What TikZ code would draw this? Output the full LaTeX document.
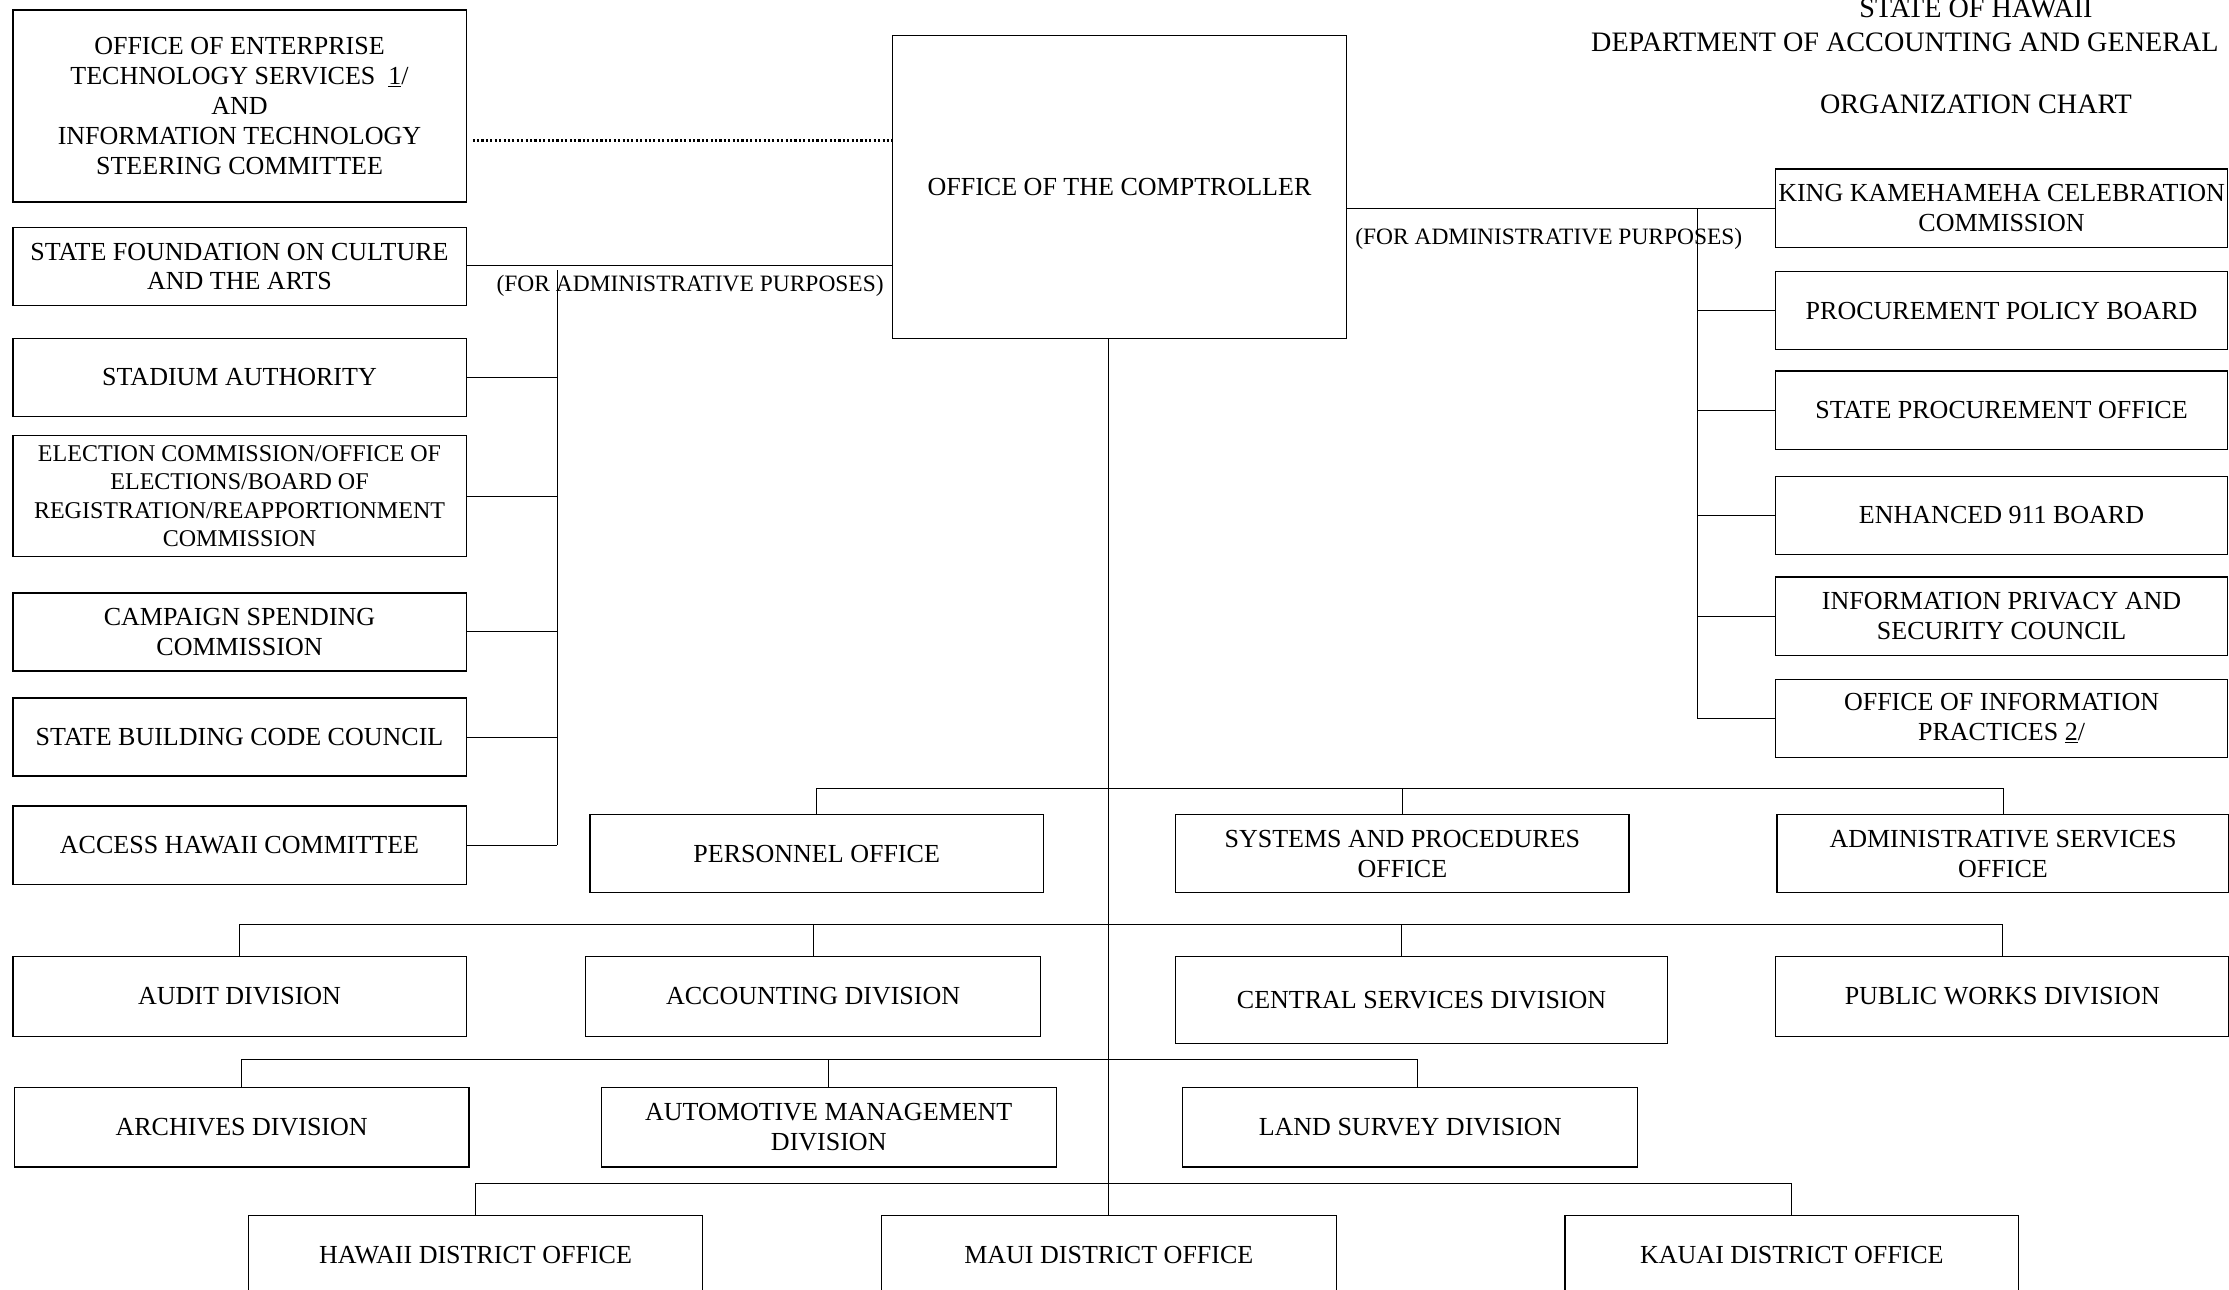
\documentclass[tikz,border=0pt]{standalone}
\usepackage{fontspec}
\setmainfont{Liberation Serif}
\begin{document}
\begin{tikzpicture}[x=1pt,y=-1pt,
  box/.style 2 args={draw, line width=1pt, inner sep=0pt, align=center,
    minimum width=#1, minimum height=#2, font=\fontsize{18.3}{21}\selectfont},
  small/.style={font=\fontsize{16.9}{20}\selectfont},
  lbl/.style={inner sep=0pt, font=\fontsize{16.5}{19}\selectfont},
  ttl/.style={inner sep=0pt, anchor=base, font=\fontsize{19.8}{22}\selectfont},
  conn/.style={line width=0.7pt},
  dots/.style={line width=2.4pt, dash pattern=on 1.5pt off 1.6pt}]
\useasboundingbox (0,0) rectangle (1568,907);

% title
\node[ttl] (t1) at (1390,12) {STATE OF HAWAII};
\node[ttl] (t2) at (1340,36) {DEPARTMENT OF ACCOUNTING AND GENERAL};
\node[ttl] (t3) at (1390,80) {ORGANIZATION CHART};

% comptroller
\node[box={319}{213}] (comp) at (787.5,131.5) {OFFICE OF THE COMPTROLLER};

% left column
\node[box={319}{135}] (oets) at (168.5,74.5) {OFFICE OF ENTERPRISE\\TECHNOLOGY SERVICES\ \ \underline{1}/\\AND\\INFORMATION TECHNOLOGY\\STEERING COMMITTEE};
\node[box={319}{55}] (sfca) at (168.5,187.5) {STATE FOUNDATION ON CULTURE\\AND THE ARTS};
\node[box={319}{55}] (stad) at (168.5,265.5) {STADIUM AUTHORITY};
\node[box={319}{85}, small] (elec) at (168.5,349) {ELECTION COMMISSION/OFFICE OF\\ELECTIONS/BOARD OF\\REGISTRATION/REAPPORTIONMENT\\COMMISSION};
\node[box={319}{55}] (camp) at (168.5,444.5) {CAMPAIGN SPENDING\\COMMISSION};
\node[box={319}{55}] (sbcc) at (168.5,518.5) {STATE BUILDING CODE COUNCIL};
\node[box={319}{55}] (ahc) at (168.5,594.5) {ACCESS HAWAII COMMITTEE};

% right column
\node[box={318}{55}] (kkcc) at (1408,146.5) {KING KAMEHAMEHA CELEBRATION\\COMMISSION};
\node[box={318}{55}] (ppb) at (1408,218.5) {PROCUREMENT POLICY BOARD};
\node[box={318}{55}] (spo) at (1408,288.5) {STATE PROCUREMENT OFFICE};
\node[box={318}{55}] (e911) at (1408,362.5) {ENHANCED 911 BOARD};
\node[box={318}{55}] (ipsc) at (1408,433.5) {INFORMATION PRIVACY AND\\SECURITY COUNCIL};
\node[box={318}{55}] (oip) at (1408,505.5) {OFFICE OF INFORMATION\\PRACTICES \underline{2}/};

% row A
\node[box={319}{55}] (pers) at (574.5,600.5) {PERSONNEL OFFICE};
\node[box={319}{55}] (sysp) at (986.5,600.5) {SYSTEMS AND PROCEDURES\\OFFICE};
\node[box={318}{55}] (adms) at (1409,600.5) {ADMINISTRATIVE SERVICES\\OFFICE};

% row B
\node[box={319}{56}] (aud) at (168.5,701) {AUDIT DIVISION};
\node[box={320}{56}] (acct) at (572,701) {ACCOUNTING DIVISION};
\node[box={346}{61}] (csd) at (1000,703.5) {CENTRAL SERVICES DIVISION};
\node[box={319}{56}] (pwd) at (1408.5,701) {PUBLIC WORKS DIVISION};

% row C
\node[box={320}{56}] (arch) at (170,793) {ARCHIVES DIVISION};
\node[box={320}{56}] (amd) at (583,793) {AUTOMOTIVE MANAGEMENT\\DIVISION};
\node[box={320}{56}] (lsd) at (992,793) {LAND SURVEY DIVISION};

% row D
\node[box={319}{56}] (hdo) at (334.5,883) {HAWAII DISTRICT OFFICE};
\node[box={320}{56}] (mdo) at (780,883) {MAUI DISTRICT OFFICE};
\node[box={319}{56}] (kdo) at (1260.5,883) {KAUAI DISTRICT OFFICE};

% labels
\node[lbl] (ladm) at (485.5,201) {(FOR ADMINISTRATIVE PURPOSES)};
\node[lbl] (radm) at (1089.5,168) {(FOR ADMINISTRATIVE PURPOSES)};

% coordinates for buses
\coordinate (lb) at (392,190);
\coordinate (rb) at (1194,147);
\coordinate (trunk) at (780,238);

% dotted link
\draw[dots] (oets.east |- 0,99) ++(4,0) -- (comp.west |- 0,99);

% left administrative links
\draw[conn] (sfca.east |- 0,187) -- (comp.west |- 0,187);
\draw[conn] (lb) -- (lb |- ahc.east);
\foreach \n in {stad,elec,camp,sbcc,ahc}
  \draw[conn] (\n.east) -- (lb |- \n.east);

% right administrative links
\draw[conn] (comp.east |- rb) -- (kkcc.west |- rb);
\draw[conn] (rb) -- (rb |- oip.west);
\foreach \n in {ppb,spo,e911,ipsc,oip}
  \draw[conn] (\n.west) -- (rb |- \n.west);

% trunk
\draw[conn] (trunk) -- (mdo.north);

% row A bus
\draw[conn] (pers.north) -- ++(0,-18) -| (adms.north);
\draw[conn] (sysp.north) -- ++(0,-18);
% row B bus
\draw[conn] (aud.north) -- ++(0,-22) -| (pwd.north);
\draw[conn] (acct.north) -- ++(0,-22);
\draw[conn] (986,651) coordinate (csdtop) -- (csdtop |- csd.north);
% row C bus
\draw[conn] (arch.north) -- ++(0,-19) -| (997,765) coordinate (lsdtop);
\draw[conn] (amd.north) -- ++(0,-19);
% row D bus
\draw[conn] (hdo.north) -- ++(0,-22) -| (kdo.north);
\end{tikzpicture}
\end{document}
